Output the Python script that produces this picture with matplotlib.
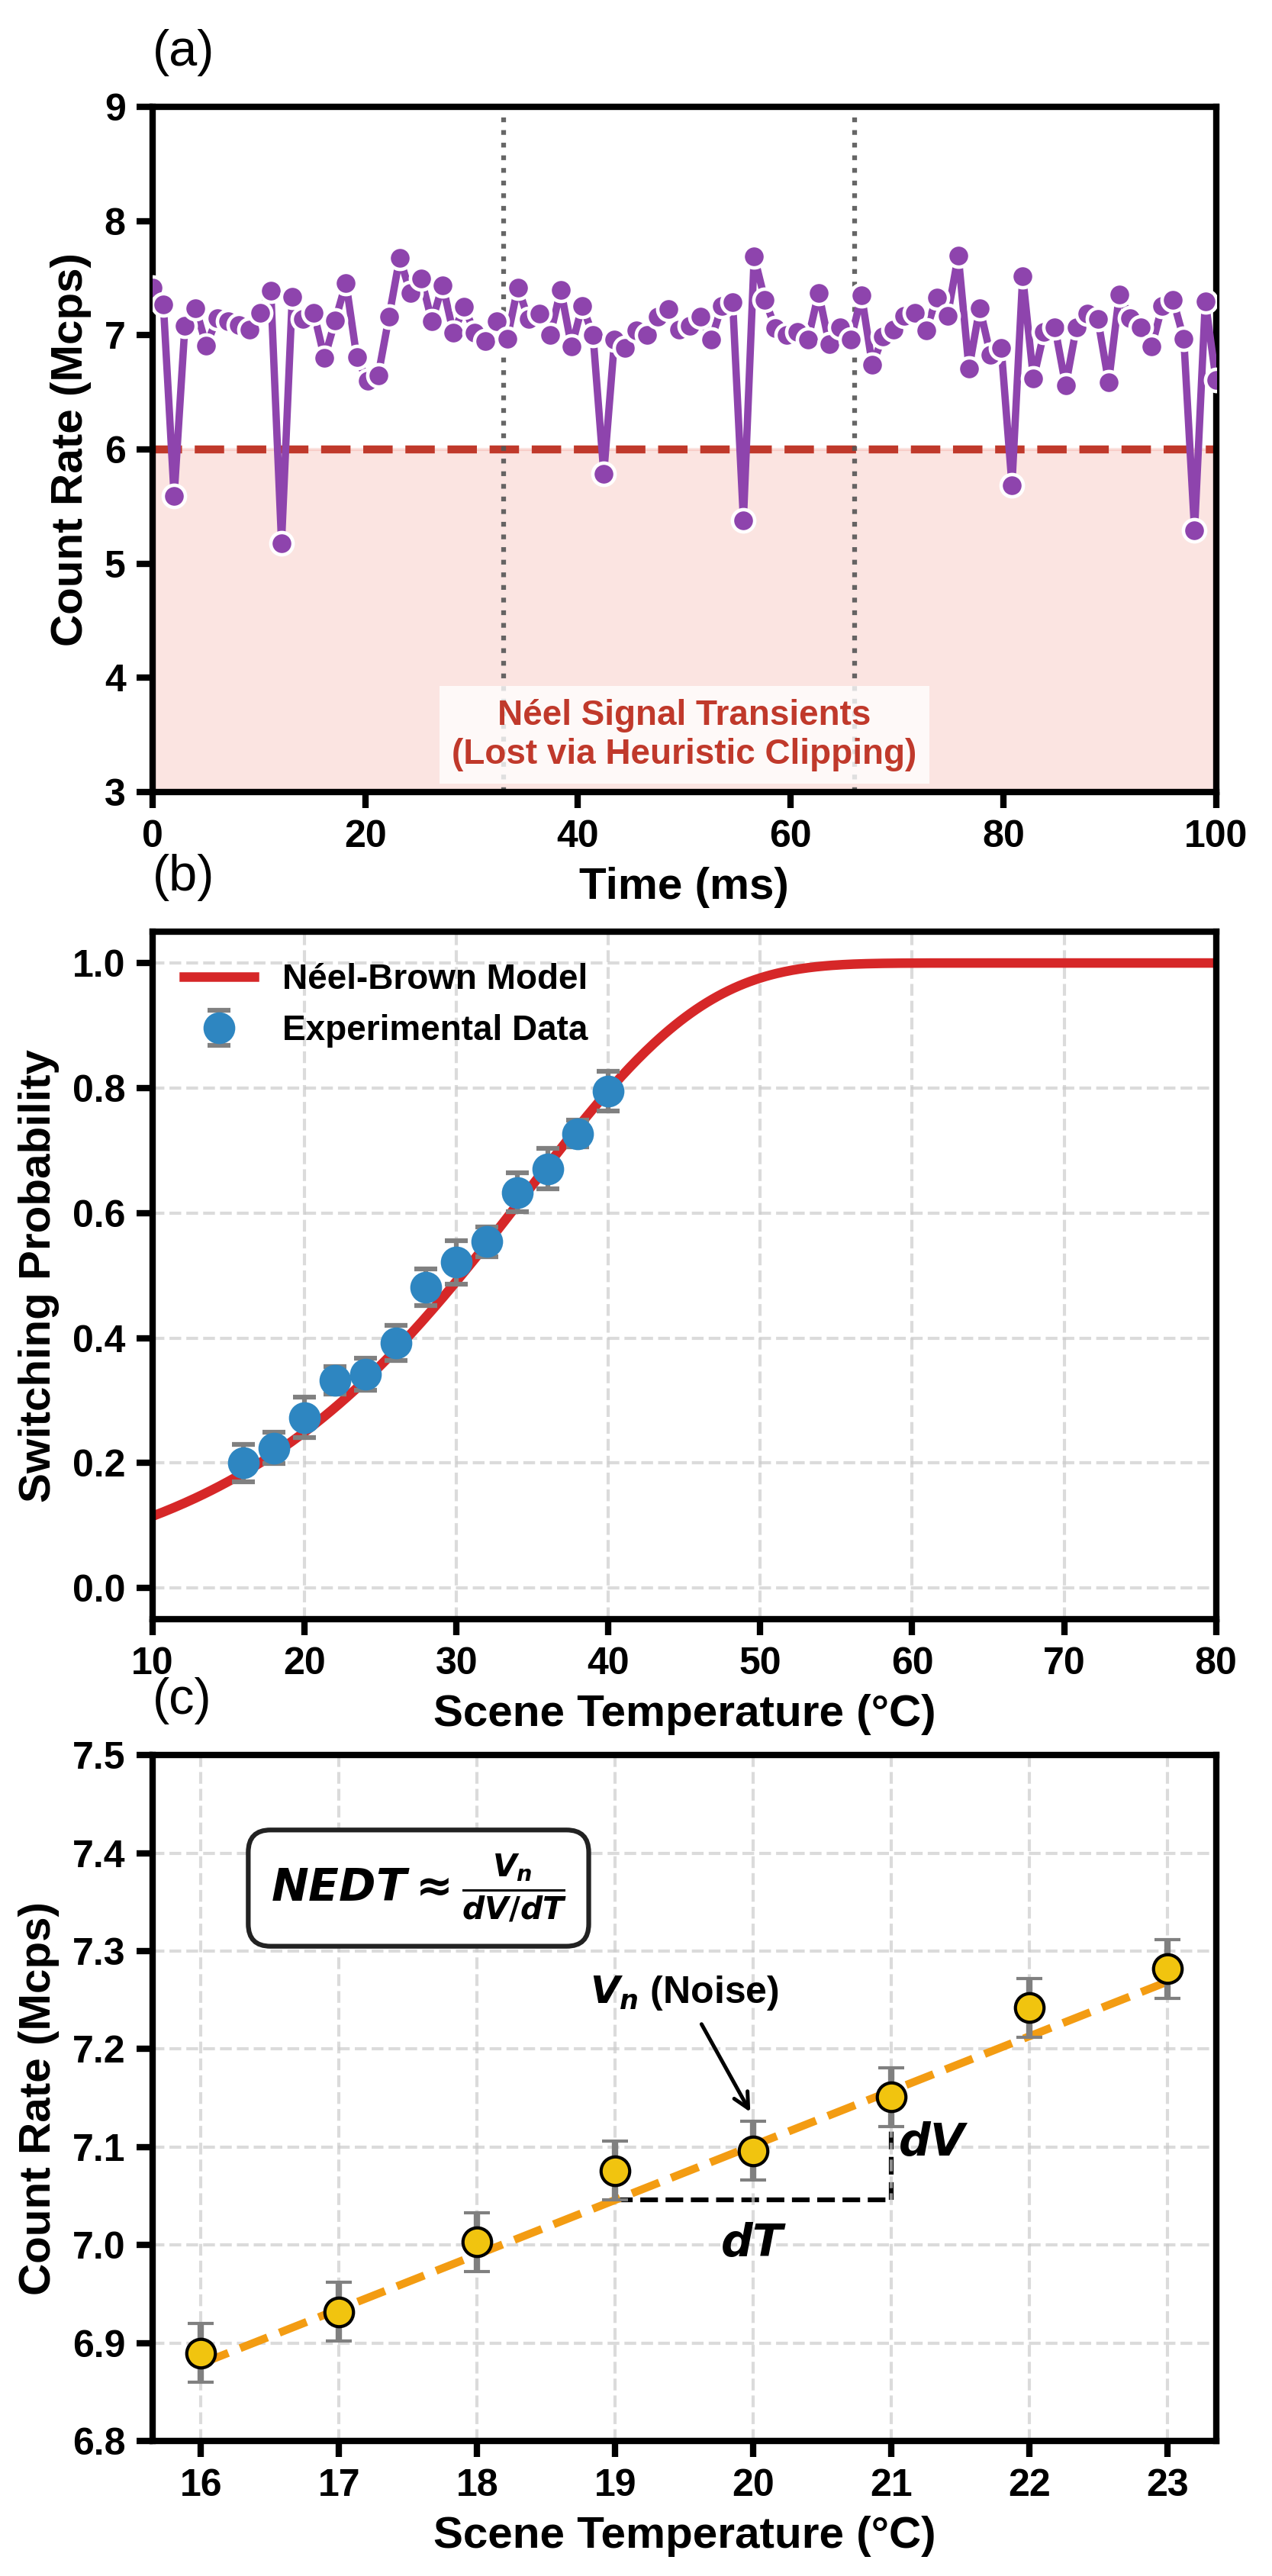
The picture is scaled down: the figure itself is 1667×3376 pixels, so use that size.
import numpy as np
import matplotlib
matplotlib.use("Agg")
import matplotlib.pyplot as plt

plt.rcParams['font.family'] = ['Liberation Sans', 'DejaVu Sans']
plt.rcParams['font.weight'] = 'bold'
plt.rcParams['mathtext.fontset'] = 'custom'
plt.rcParams['mathtext.it'] = 'DejaVu Sans:italic:bold'
plt.rcParams['mathtext.rm'] = 'DejaVu Sans:bold'
plt.rcParams['mathtext.bf'] = 'DejaVu Sans:bold'

# ---- (a) count rate trace ----
time_ms = np.linspace(0, 100, 100)
count_rate = [7.42, 7.27, 5.59, 7.08, 7.24, 6.91, 7.15, 7.12, 7.09, 7.05,
              7.20, 7.39, 5.18, 7.34, 7.14, 7.20, 6.80, 7.13, 7.46, 6.81,
              6.60, 6.65, 7.16, 7.68, 7.37, 7.50, 7.12, 7.44, 7.02, 7.25,
              7.02, 6.95, 7.12, 6.97, 7.42, 7.14, 7.19, 7.00, 7.40, 6.90,
              7.26, 7.00, 5.79, 6.96, 6.89, 7.04, 7.00, 7.16, 7.23, 7.05,
              7.08, 7.16, 6.96, 7.26, 7.29, 5.38, 7.69, 7.31, 7.06, 7.00,
              7.03, 6.96, 7.37, 6.92, 7.07, 6.96, 7.35, 6.74, 6.99, 7.05,
              7.17, 7.20, 7.04, 7.33, 7.17, 7.70, 6.71, 7.24, 6.83, 6.89,
              5.69, 7.52, 6.62, 7.03, 7.07, 6.56, 7.07, 7.19, 7.14, 6.59,
              7.36, 7.15, 7.07, 6.90, 7.26, 7.31, 6.97, 5.29, 7.30, 6.61]
clip_level = 6.0
frame_marks = [33, 66]

# ---- (b) switching probability ----
temp_b = [16, 18, 20, 22, 24, 26, 28, 30, 32, 34, 36, 38, 40]
prob_b = [0.200, 0.224, 0.273, 0.332, 0.342, 0.392, 0.481, 0.521, 0.554,
          0.633, 0.671, 0.727, 0.795]
err_b = [0.030, 0.025, 0.032, 0.022, 0.026, 0.028, 0.029, 0.035, 0.024,
         0.031, 0.032, 0.021, 0.032]
nb_T0 = 34.6      # model centre (C)
nb_width = 11.7   # model width (C)

# ---- (c) NEDT ----
temp_c = [16, 17, 18, 19, 20, 21, 22, 23]
rate_c = [6.890, 6.932, 7.003, 7.076, 7.096, 7.151, 7.242, 7.282]
err_c = [0.03] * 8
fit_slope = 0.0557
fit_intercept = 5.9877


def style_axes(ax):
    for s in ax.spines.values():
        s.set_linewidth(2)
    ax.tick_params(direction='out', length=5, width=2, labelsize=12)
    for lab in ax.get_xticklabels() + ax.get_yticklabels():
        lab.set_fontweight('bold')


fig = plt.figure(figsize=(1667 / 300, 3376 / 300), dpi=300)
L, W = 0.120, 0.836
ax1 = fig.add_axes([L, 0.6925, W, 0.2660])
ax2 = fig.add_axes([L, 0.3714, W, 0.2669])
ax3 = fig.add_axes([L, 0.0524, W, 0.2663])

# (a)
ax1.fill_between([0, 100], 3, clip_level, color='#E74C3C', alpha=0.15, lw=1)
ax1.axhline(clip_level, color='#C0392B', ls='--', lw=2.5)
for fm in frame_marks:
    ax1.axvline(fm, color='#555555', ls=':', lw=1.5, alpha=0.9)
ax1.plot(time_ms, count_rate, color='#8E44AD', lw=2.3, marker='o', ms=7,
         mec='white', mew=1.1, zorder=3)
ax1.text(50, 3.5, 'Néel Signal Transients\n(Lost via Heuristic Clipping)',
         ha='center', va='center', color='#C0392B', fontsize=11,
         fontweight='bold', bbox=dict(facecolor='white', alpha=0.8, edgecolor='none'))
ax1.set_xlim(0, 100)
ax1.set_ylim(3, 9)
ax1.set_xticks(range(0, 101, 20))
ax1.set_xlabel('Time (ms)', fontsize=14, fontweight='bold')
ax1.set_ylabel('Count Rate (Mcps)', fontsize=14, fontweight='bold')
style_axes(ax1)

# (b)
T_model = np.linspace(10, 80, 400)
P_model = 1 - np.exp(-np.exp((T_model - nb_T0) / nb_width))
ax2.plot(T_model, P_model, color='#D62728', lw=3, label='Néel-Brown Model')
ax2.errorbar(temp_b, prob_b, yerr=err_b, fmt='o', color='#2E86C1', ms=9,
             ecolor='gray', elinewidth=1.5, capsize=3.5, capthick=1.5,
             label='Experimental Data', zorder=3)
ax2.set_xlim(10, 80)
ax2.set_ylim(-0.05, 1.05)
ax2.grid(True, ls='--', color='#cccccc', alpha=0.7, lw=1)
ax2.legend(loc='upper left', frameon=False, prop={'size': 11, 'weight': 'bold'})
ax2.set_xlabel('Scene Temperature (°C)', fontsize=14, fontweight='bold')
ax2.set_ylabel('Switching Probability', fontsize=14, fontweight='bold')
style_axes(ax2)

# (c)
fit_T = np.array([temp_c[0], temp_c[-1]])
ax3.plot(fit_T, fit_intercept + fit_slope * fit_T, color='#F39C12', ls='--', lw=2.5, zorder=2)
ax3.errorbar(temp_c, rate_c, yerr=err_c, fmt='o', color='#F1C40F', ms=9,
             mec='black', mew=1, ecolor='gray', elinewidth=2, capsize=4,
             capthick=1.5, zorder=3)
y19 = fit_intercept + fit_slope * 19
y21 = fit_intercept + fit_slope * 21
ax3.plot([19, 21], [y19, y19], color='black', ls='--', lw=1.5, zorder=1)
ax3.plot([21, 21], [y19, y21], color='black', ls='--', lw=1.5, zorder=1)
ax3.text(20, 7.0, '$dT$', ha='center', va='center', fontsize=14)
ax3.text(21.05, 7.103, '$dV$', ha='left', va='center', fontsize=14)
ax3.annotate('$V_n$ (Noise)', xy=(20, 7.13), xytext=(19.5, 7.257),
             ha='center', va='center', fontsize=12, fontweight='bold',
             arrowprops=dict(arrowstyle='->', color='black', lw=1.2))
ax3.text(0.250, 0.806, r'$NEDT \approx \frac{V_n}{dV/dT}$', transform=ax3.transAxes,
         ha='center', va='center', fontsize=14,
         bbox=dict(boxstyle='round,pad=0.5', facecolor='white', edgecolor='#222222', lw=1.5))
ax3.set_xlim(15.65, 23.35)
ax3.set_ylim(6.8, 7.5)
ax3.set_xticks(temp_c)
ax3.grid(True, ls='--', color='#cccccc', alpha=0.7, lw=1)
ax3.set_xlabel('Scene Temperature (°C)', fontsize=14, fontweight='bold')
ax3.set_ylabel('Count Rate (Mcps)', fontsize=14, fontweight='bold')
style_axes(ax3)

for ax, lab in zip([ax1, ax2, ax3], ['(a)', '(b)', '(c)']):
    ax.text(0.0, 1.06, lab, transform=ax.transAxes, fontsize=16,
            fontweight='normal', ha='left', va='baseline')

fig.savefig('out.png', dpi=300)
